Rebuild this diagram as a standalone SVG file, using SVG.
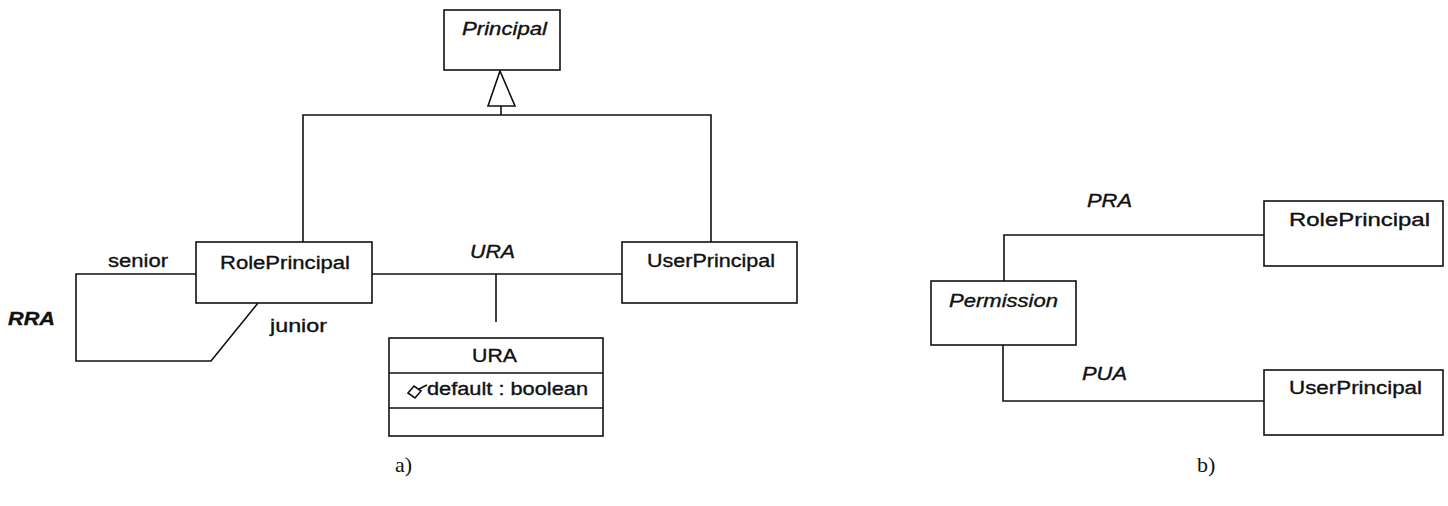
<svg xmlns="http://www.w3.org/2000/svg" width="1448" height="506" viewBox="0 0 1448 506">
<style>
.box{fill:#fff;stroke:#111;stroke-width:1.6}
.ln{fill:none;stroke:#111;stroke-width:1.6}
text{font-family:"Liberation Sans",Arial,sans-serif;font-size:18px;fill:#111;stroke:#111;stroke-width:0.35}
.it{font-style:italic}
.cap{font-family:"Liberation Serif","Times New Roman",serif;font-size:22px;stroke-width:0}
</style>
<g id="connectors">
<polygon points="500,71 488,106 515,106" class="box"/>
<polyline class="ln" points="501,106 501,115"/>
<polyline class="ln" points="303,242 303,115 711,115 711,242"/>
<polyline class="ln" points="372,274 622,274"/>
<polyline class="ln" points="496,274 496,322"/>
<polyline class="ln" points="196,274 76,274 76,361 211,361 258,303"/>
<polyline class="ln" points="1004,281 1004,235 1264,235"/>
<polyline class="ln" points="1003,345 1003,401 1264,401"/>
<text x="470" y="258" class="it" textLength="45" lengthAdjust="spacingAndGlyphs">URA</text>
<text x="108" y="267" textLength="60" lengthAdjust="spacingAndGlyphs">senior</text>
<text x="270" y="332" textLength="57" lengthAdjust="spacingAndGlyphs">junior</text>
<text x="8" y="325" class="it" font-weight="bold" textLength="47" lengthAdjust="spacingAndGlyphs">RRA</text>
<text x="1087" y="207" class="it" textLength="45" lengthAdjust="spacingAndGlyphs">PRA</text>
<text x="1082" y="380" class="it" textLength="45" lengthAdjust="spacingAndGlyphs">PUA</text>
</g>
<g id="principal">
<rect x="444" y="10" width="116" height="60" class="box"/>
<text x="462" y="35" class="it" textLength="85" lengthAdjust="spacingAndGlyphs">Principal</text>
</g>
<g id="rolePrincipalA">
<rect x="196" y="242" width="176" height="61" class="box"/>
<text x="220" y="269" textLength="130" lengthAdjust="spacingAndGlyphs">RolePrincipal</text>
</g>
<g id="userPrincipalA">
<rect x="622" y="242" width="175" height="61" class="box"/>
<text x="647" y="267" textLength="128" lengthAdjust="spacingAndGlyphs">UserPrincipal</text>
</g>
<g id="uraClass">
<rect x="389" y="338" width="214" height="98" class="box"/>
<line x1="389" y1="373" x2="603" y2="373" class="ln"/>
<line x1="389" y1="408" x2="603" y2="408" class="ln"/>
<text x="472" y="362" textLength="45" lengthAdjust="spacingAndGlyphs">URA</text>
<polygon points="408,393 414,386 421,391 415,398" class="ln"/>
<line x1="419" y1="389" x2="427" y2="385" class="ln"/>
<text x="427" y="395" textLength="161" lengthAdjust="spacingAndGlyphs">default : boolean</text>
</g>
<g id="permission">
<rect x="931" y="281" width="145" height="64" class="box"/>
<text x="949" y="307" class="it" textLength="109" lengthAdjust="spacingAndGlyphs">Permission</text>
</g>
<g id="rolePrincipalB">
<rect x="1264" y="201" width="179" height="65" class="box"/>
<text x="1289" y="226" textLength="141" lengthAdjust="spacingAndGlyphs">RolePrincipal</text>
</g>
<g id="userPrincipalB">
<rect x="1264" y="370" width="179" height="65" class="box"/>
<text x="1289" y="394" textLength="133" lengthAdjust="spacingAndGlyphs">UserPrincipal</text>
</g>
<text x="395" y="472" class="cap">a)</text>
<text x="1197" y="472" class="cap">b)</text>
</svg>
